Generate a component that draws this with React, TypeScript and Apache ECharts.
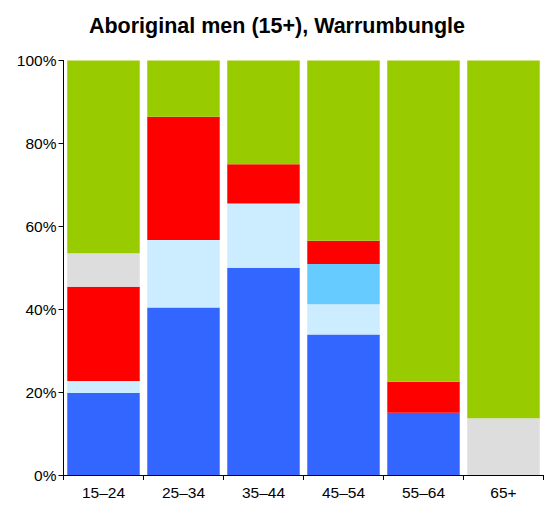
import React, { useEffect, useRef } from "react";
import * as echarts from "echarts";

const categories = ["15–24", "25–34", "35–44", "45–54", "55–64", "65+"];
const seriesNames = ["Dark blue", "Light blue", "Sky blue", "Red", "Grey", "Green"];
const darkBlue = [19.8, 40.4, 50.0, 33.9, 15.0, 0];
const lightBlue = [2.9, 16.3, 15.5, 7.3, 0, 0];
const skyBlue = [0, 0, 0, 9.7, 0, 0];
const red = [22.7, 29.7, 9.5, 5.6, 7.5, 0];
const grey = [8.1, 0, 0, 0, 0, 13.7];
const green = [46.5, 13.6, 25.0, 43.5, 77.5, 86.3];
const colors = ["#3366FF", "#CCECFF", "#66CCFF", "#FF0000", "#DDDDDD", "#99CC00"];
const yTicks = [0, 20, 40, 60, 80, 100];

export default function App() {
  const ref = useRef<HTMLDivElement>(null);
  useEffect(() => {
    const chart = echarts.init(ref.current!, null, { renderer: "svg" });
    const data = [darkBlue, lightBlue, skyBlue, red, grey, green];
    chart.setOption({
      animation: false,
      title: {
        text: "Aboriginal men (15+), Warrumbungle",
        left: 272,
        textAlign: "center",
        top: 10,
        textStyle: { fontFamily: "Liberation Sans", fontWeight: "bold", fontSize: 21.5, color: "#000" },
      },
      grid: { left: 63.5, right: 0.5, top: 60.5, bottom: 31 },
      xAxis: {
        type: "category",
        data: categories,
        axisLine: { lineStyle: { color: "#000" } },
        axisTick: { show: true, length: 5, lineStyle: { color: "#000" } },
        axisLabel: { color: "#000", fontFamily: "Liberation Sans", fontSize: 15.5, margin: 9 },
      },
      yAxis: {
        type: "value",
        min: 0,
        max: 100,
        interval: 20,
        axisLine: { show: true, lineStyle: { color: "#000" } },
        axisTick: { show: true, length: 5, lineStyle: { color: "#000" } },
        splitLine: { show: false },
        axisLabel: {
          color: "#000",
          fontFamily: "Liberation Sans",
          fontSize: 15.5,
          margin: 7,
          formatter: (v: number) => (yTicks.includes(v) ? v + "%" : ""),
        },
      },
      series: data.map((d, i) => ({
        name: seriesNames[i],
        type: "bar",
        stack: "total",
        data: d,
        barCategoryGap: "9.4%",
        itemStyle: { color: colors[i] },
      })),
    });
    return () => chart.dispose();
  }, []);
  return <div ref={ref} style={{ width: 544, height: 506, position: "absolute", left: 0, top: 0 }} />;
}
